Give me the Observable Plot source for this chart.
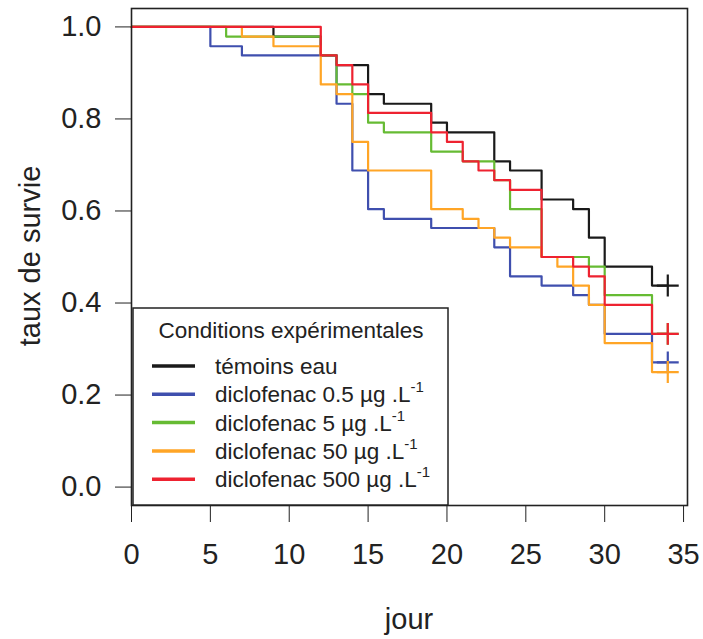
<!DOCTYPE html>
<html>
<head>
<meta charset="utf-8">
<script src="https://cdn.jsdelivr.net/npm/d3@7"></script>
<script src="https://cdn.jsdelivr.net/npm/@observablehq/plot@0.6"></script>
<style>
  html, body { margin: 0; padding: 0; background: #fff; }
  #chart { width: 703px; height: 639px; }
</style>
</head>
<body>
<div id="chart"></div>
<script>
// ---- Data ----
const seriesNames = [
  "témoins eau",
  "diclofenac 0.5 µg .L",
  "diclofenac 5 µg .L",
  "diclofenac 50 µg .L",
  "diclofenac 500 µg .L"
];
const seriesColors = ["#1a1a1a", "#3f4fae", "#66bb33", "#ffa526", "#ee2230"];

// time (jour) of each step and survival rate after the step; last entry = censoring day
const temoinDays = [0, 9, 12, 13, 15, 16, 19, 20, 23, 24, 26, 28, 29, 30, 33, 34];
const temoinSurv = [1.0, 0.979, 0.938, 0.917, 0.854, 0.833, 0.792, 0.771, 0.708, 0.688, 0.625, 0.604, 0.542, 0.479, 0.438, 0.438];

const dic05Days = [0, 5, 7, 13, 14, 15, 16, 19, 23, 24, 26, 28, 29, 30, 33, 34];
const dic05Surv = [1.0, 0.958, 0.938, 0.833, 0.688, 0.604, 0.583, 0.563, 0.521, 0.458, 0.438, 0.417, 0.396, 0.333, 0.271, 0.271];

const dic5Days = [0, 6, 12, 13, 14, 15, 16, 19, 21, 23, 24, 26, 29, 30, 33, 34];
const dic5Surv = [1.0, 0.979, 0.938, 0.875, 0.854, 0.792, 0.771, 0.729, 0.708, 0.667, 0.604, 0.500, 0.479, 0.417, 0.333, 0.333];

const dic50Days = [0, 7, 9, 12, 13, 14, 15, 19, 21, 22, 23, 24, 26, 27, 28, 29, 30, 33, 34];
const dic50Surv = [1.0, 0.979, 0.958, 0.875, 0.854, 0.750, 0.688, 0.604, 0.583, 0.563, 0.542, 0.521, 0.500, 0.479, 0.438, 0.396, 0.313, 0.250, 0.250];

const dic500Days = [0, 12, 13, 14, 15, 19, 20, 21, 22, 23, 24, 26, 28, 29, 30, 33, 34];
const dic500Surv = [1.0, 0.938, 0.917, 0.875, 0.813, 0.771, 0.750, 0.708, 0.688, 0.667, 0.646, 0.500, 0.479, 0.458, 0.396, 0.333, 0.333];

const xTicks = [0, 5, 10, 15, 20, 25, 30, 35];
const yTicks = [0.0, 0.2, 0.4, 0.6, 0.8, 1.0];
const legendTitle = "Conditions expérimentales";
const xLabel = "jour";
const yLabel = "taux de survie";

// ---- Build table ----
const allDays = [temoinDays, dic05Days, dic5Days, dic50Days, dic500Days];
const allSurv = [temoinSurv, dic05Surv, dic5Surv, dic50Surv, dic500Surv];
const rows = [];
const ends = [];
seriesNames.forEach((name, k) => {
  allDays[k].forEach((d, i) => rows.push({group: name, day: d, surv: allSurv[k][i]}));
  const n = allDays[k].length - 1;
  ends.push({group: name, day: allDays[k][n], surv: allSurv[k][n]});
});

const FONT = "'Liberation Sans', Arial, Helvetica, sans-serif";

const plot = Plot.plot({
  width: 703,
  height: 639,
  marginLeft: 131,
  marginRight: 16,
  marginTop: 8,
  marginBottom: 134,
  style: {fontFamily: FONT, fontSize: "29px", color: "#222", background: "#fff"},
  x: {domain: [0, 35.25], ticks: xTicks, tickSize: 17, tickPadding: 21, label: null, tickFormat: d3.format("d")},
  y: {domain: [-0.04, 1.04], ticks: yTicks, tickSize: 16, tickPadding: 14, label: null, tickFormat: d3.format(".1f")},
  color: {type: "ordinal", domain: seriesNames, range: seriesColors},
  marks: [
    Plot.line(rows, {x: "day", y: "surv", z: "group", stroke: "group", curve: "step-after", strokeWidth: 2.2}),
    Plot.dot(ends, {x: "day", y: "surv", stroke: "group", symbol: "plus", r: 7.1, strokeWidth: 2.2}),
    Plot.frame({stroke: "#222", strokeWidth: 1.6})
  ]
});

document.getElementById("chart").appendChild(plot);

// ---- Axis titles and legend ----
const svg = d3.select(plot);
svg.append("text")
  .attr("x", 409).attr("y", 629)
  .attr("text-anchor", "middle")
  .style("font-family", FONT).style("font-size", "29px").attr("fill", "#222")
  .text(xLabel);
svg.append("text")
  .attr("transform", "translate(40,256) rotate(-90)")
  .attr("text-anchor", "middle")
  .style("font-family", FONT).style("font-size", "29px").attr("fill", "#222")
  .text(yLabel);

const lg = svg.append("g").style("font-family", FONT).attr("fill", "#222").attr("text-anchor", "start");
lg.append("rect")
  .attr("x", 133).attr("y", 308).attr("width", 315).attr("height", 197)
  .attr("fill", "#fff").attr("stroke", "#222").attr("stroke-width", 1.5);
lg.append("text")
  .attr("x", 291).attr("y", 338).attr("text-anchor", "middle")
  .style("font-size", "22.5px").text(legendTitle);
seriesNames.forEach((name, i) => {
  const cy = 366 + i * 28.3;
  lg.append("line")
    .attr("x1", 152).attr("x2", 195).attr("y1", cy).attr("y2", cy)
    .attr("stroke", seriesColors[i]).attr("stroke-width", 3.5);
  const t = lg.append("text").attr("x", 215).attr("y", cy + 8)
    .attr("text-anchor", "start").style("font-size", "22.5px");
  t.append("tspan").text(name);
  if (i > 0) {
    t.append("tspan").attr("dy", -10).style("font-size", "15px").text("-1");
  }
});
</script>
</body>
</html>
